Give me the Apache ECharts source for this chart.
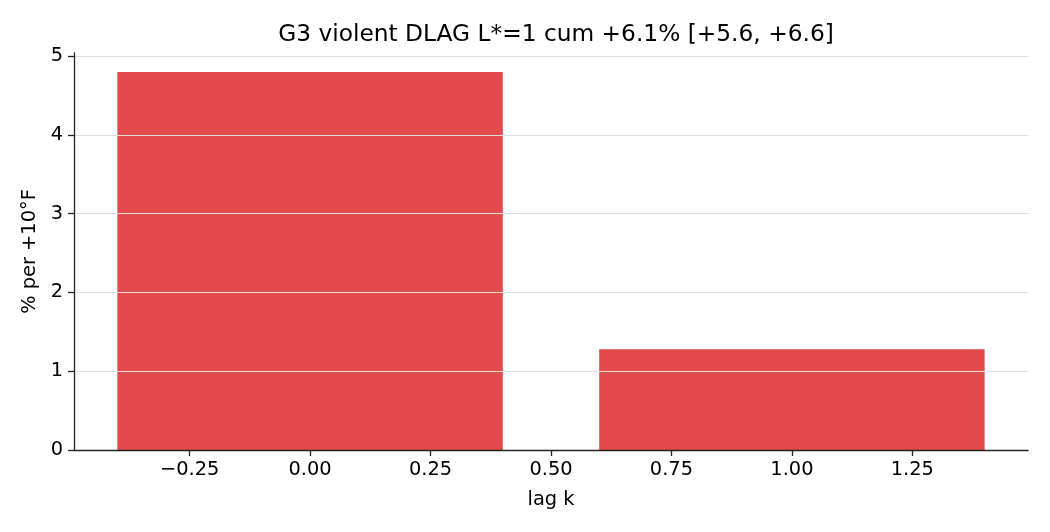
<!DOCTYPE html>
<html>
<head>
<meta charset="utf-8">
<script src="https://cdn.jsdelivr.net/npm/echarts@6/dist/echarts.min.js"></script>
<style>
  html, body { margin: 0; padding: 0; background: #fff; }
  #chart { width: 1050px; height: 532px; }
</style>
</head>
<body>
<div id="chart"></div>
<script>
const titleText = 'G3 violent DLAG L*=1 cum +6.1% [+5.6, +6.6]'
const lags = [0, 1]
const effects = [4.8, 1.28]
const xTicks = [-0.25, 0, 0.25, 0.5, 0.75, 1.0, 1.25]
const yTicks = [0, 1, 2, 3, 4, 5]
const barWidth = 0.8

const font = 'DejaVu Sans'
const chart = echarts.init(document.getElementById('chart'))

const fmt = v => {
  const s = Math.abs(v).toFixed(2)
  return v < 0 ? '\u2212' + s : s
}

chart.setOption({
  animation: false,
  backgroundColor: '#fff',
  title: {
    text: titleText,
    left: 551,
    top: 18,
    textAlign: 'center',
    textStyle: { fontFamily: font, fontSize: 23.3, fontWeight: 'normal', color: '#000' }
  },
  grid: { left: 74, right: 22, top: 53, bottom: 82 },
  xAxis: {
    type: 'value',
    min: -0.49,
    max: 1.49,
    z: 5,
    name: 'lag k',
    nameLocation: 'middle',
    nameGap: 40,
    nameTextStyle: { fontFamily: font, fontSize: 19.4, color: '#000' },
    axisLine: { show: true, onZero: false, lineStyle: { color: '#222', width: 1.3 } },
    axisTick: { show: true, length: 6, customValues: xTicks, lineStyle: { color: '#222', width: 1.3 } },
    axisLabel: {
      customValues: xTicks,
      formatter: fmt,
      margin: 10,
      fontFamily: font, fontSize: 19.4, color: '#000'
    },
    splitLine: { show: false }
  },
  yAxis: {
    type: 'value',
    min: 0,
    max: 5.04,
    interval: 1,
    z: 5,
    name: '% per +10°F',
    nameLocation: 'middle',
    nameGap: 35,
    nameTextStyle: { fontFamily: font, fontSize: 19.4, color: '#000' },
    axisLine: { show: true, onZero: false, lineStyle: { color: '#222', width: 1.3 } },
    axisTick: { show: true, length: 6, customValues: yTicks, lineStyle: { color: '#222', width: 1.3 } },
    axisLabel: {
      customValues: yTicks,
      margin: 11,
      formatter: v => String(Math.round(v)),
      fontFamily: font, fontSize: 19.4, color: '#000'
    },
    splitLine: { show: true, showMinLine: false, showMaxLine: true, lineStyle: { color: '#dededa', width: 1 } }
  },
  series: [{
    type: 'custom',
    z: 2,
    data: lags.map((x, i) => [x, effects[i]]),
    renderItem: (params, api) => {
      const x = api.value(0)
      const h = api.value(1)
      const p0 = api.coord([x - barWidth / 2, h])
      const p1 = api.coord([x + barWidth / 2, 0])
      return {
        type: 'rect',
        shape: { x: p0[0], y: p0[1], width: p1[0] - p0[0], height: p1[1] - p0[1] },
        style: { fill: '#e34a4b' }
      }
    }
  }]
})
</script>
</body>
</html>
